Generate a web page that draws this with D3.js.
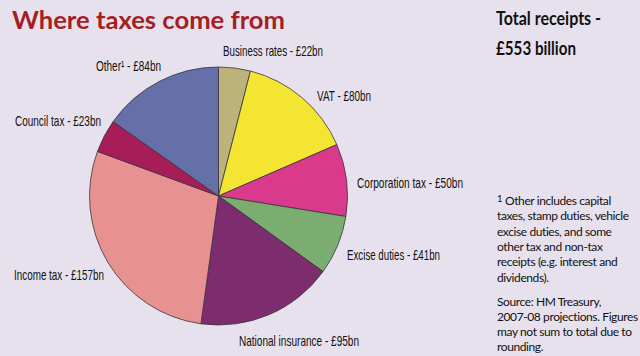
<!DOCTYPE html>
<html><head><meta charset="utf-8">
<script src="https://cdn.jsdelivr.net/npm/d3@7"></script>
<style>
html,body{margin:0;padding:0;background:#e7e1ed;}
svg{display:block;}
</style></head>
<body>
<svg id="c" width="640" height="356"></svg>
<script>
// ---- data ----
const categories = ["Business rates","VAT","Corporation tax","Excise duties","National insurance","Income tax","Council tax","Other"];
const values = [22, 80, 50, 41, 95, 157, 23, 84];
const labelTexts = ["Business rates - £22bn","VAT - £80bn","Corporation tax - £50bn","Excise duties - £41bn","National insurance - £95bn","Income tax - £157bn","Council tax - £23bn","Other¹ - £84bn"];
const titleText = "Where taxes come from";
const totalLines = ["Total receipts -","£553 billion"];
const footnoteMark = "1";
const footnoteLines = ["Other includes capital","taxes, stamp duties, vehicle","excise duties, and some","other tax and non-tax","receipts (e.g. interest and","dividends)."];
const sourceLines = ["Source: HM Treasury,","2007-08 projections. Figures","may not sum to total due to","rounding."];

// ---- styles / layout ----
const colors = ["#bcb37a","#f4e532","#da3a8c","#7aad6f","#7d2d6e","#e89191","#a71d57","#6570a8"];
const labelLayout = [
  {x:223,y:56,w:100},{x:317,y:101,w:54},{x:357,y:188,w:106},{x:347,y:260,w:93},
  {x:239,y:346,w:120},{x:14,y:280,w:90},{x:15,y:126,w:86},{x:96,y:71,w:65}
];
const cx = 218.5, cy = 196, R = 129;

const svg = d3.select("#c");
svg.append("rect").attr("width",640).attr("height",356).attr("fill","#e7e1ed");

const pie = d3.pie().sort(null).value(d=>d);
const arc = d3.arc().innerRadius(0).outerRadius(R);
const g = svg.append("g").attr("transform",`translate(${cx},${cy})`);
g.selectAll("path").data(pie(values)).join("path")
  .attr("d",arc).attr("fill",(d,i)=>colors[i])
  .attr("stroke","#3a3440").attr("stroke-width",0.8).attr("stroke-linejoin","round");

// labels
const lab = svg.append("g").attr("font-family","'Liberation Sans Narrow','Arial Narrow',sans-serif")
  .attr("font-size",15).attr("fill","#111");
labelTexts.forEach((t,i)=>{
  const L = labelLayout[i];
  lab.append("text").attr("x",L.x).attr("y",L.y).text(t)
    .attr("textLength",L.w).attr("lengthAdjust","spacingAndGlyphs");
});

// title
svg.append("text").attr("x",12).attr("y",29).text(titleText)
  .attr("font-family","Lato, 'Open Sans', sans-serif").attr("font-weight","bold")
  .attr("font-size",25).attr("fill","#a61d25")
  .attr("textLength",273).attr("lengthAdjust","spacingAndGlyphs");

// total
const tot = svg.append("g").attr("font-family","Lato, sans-serif").attr("font-weight","bold")
  .attr("font-size",18).attr("fill","#111");
tot.append("text").attr("x",496).attr("y",25).text(totalLines[0]).attr("textLength",105).attr("lengthAdjust","spacingAndGlyphs");
tot.append("text").attr("x",496).attr("y",55).text(totalLines[1]).attr("textLength",80).attr("lengthAdjust","spacingAndGlyphs");

// footnote
const fn = svg.append("g").attr("font-family","Lato, sans-serif").attr("font-size",12)
  .attr("letter-spacing","-0.4px").attr("fill","#111");
function addLine(t, x, y){
  fn.append("text").attr("x",x).attr("y",y).text(t);
}
fn.append("text").attr("x",497).attr("y",202).attr("font-size",9.5).text(footnoteMark);
addLine(footnoteLines[0], 505, 205);
footnoteLines.slice(1).forEach((t,i)=> addLine(t, 497, 205+(i+1)*15.3));
sourceLines.forEach((t,i)=> addLine(t, 497, 305.5+i*15.2));
</script>
</body></html>
